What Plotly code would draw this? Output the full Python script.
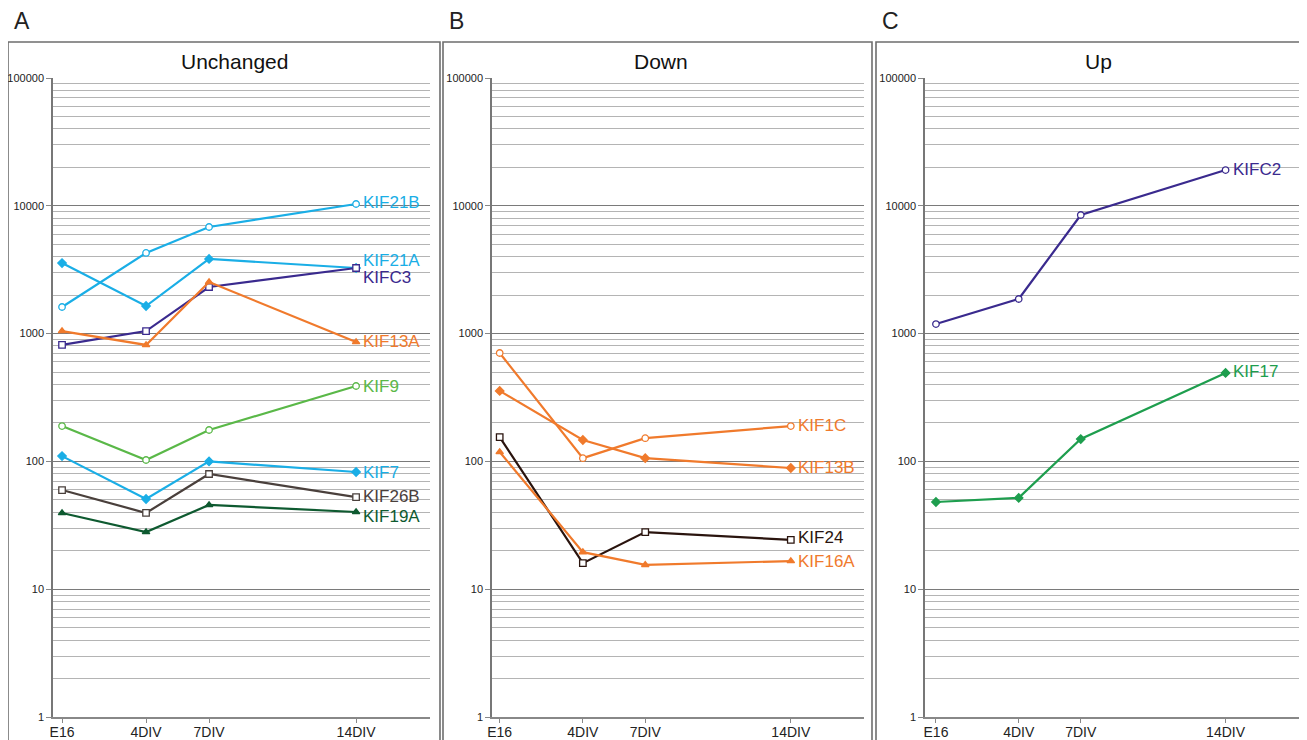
import math
import plotly.graph_objects as go

# ---- data ----
days = [0, 4, 7, 14]
tick_labels = ["E16", "4DIV", "7DIV", "14DIV"]

# Panel A: Unchanged
kif21b = [1615, 4275, 6825, 10330]
kif21a = [3565, 1644, 3837, 3260]
kifc3 = [815, 1047, 2316, 3260]
kif13a = [1047, 815, 2535, 860]
kif9 = [189, 102.6, 176, 389]
kif7 = [110, 50.8, 100, 82.6]
kif26b = [59.7, 39.5, 79.7, 52.6]
kif19a = [39.5, 28.0, 45.6, 40.2]

# Panel B: Down
kif1c = [705, 106, 152, 189]
kif13b = [356, 147, 106, 88.8]
kif24 = [155, 16.0, 28.0, 24.3]
kif16a = [118.5, 19.5, 15.5, 16.6]

# Panel C: Up
kifc2 = [1188, 1866, 8475, 19050]
kif17 = [48.1, 51.8, 149.6, 492]

panel_titles = ["Unchanged", "Down", "Up"]
panel_letters = ["A", "B", "C"]
major_ticks = [1, 10, 100, 1000, 10000, 100000]

# ---- styles ----
LBLUE = "#1aaee6"
INDIGO = "#3a2a8e"
ORANGE = "#f07a2c"
LGREEN = "#5ab848"
DBROWN = "#4a403c"
DGREEN = "#0e5a30"
BLACKBR = "#2a140e"
GREEN = "#1e9e4e"

FONT = "Liberation Sans, Arial, sans-serif"

series = [
    # (axis idx, name, values, color, symbol, label yshift)
    (1, "KIF21B", kif21b, LBLUE, "circle-open", 2),
    (1, "KIF21A", kif21a, LBLUE, "diamond", 8),
    (1, "KIFC3", kifc3, INDIGO, "square-open", -9),
    (1, "KIF13A", kif13a, ORANGE, "triangle-up", 0),
    (1, "KIF9", kif9, LGREEN, "circle-open", 0),
    (1, "KIF7", kif7, LBLUE, "diamond", 0),
    (1, "KIF26B", kif26b, DBROWN, "square-open", 1),
    (1, "KIF19A", kif19a, DGREEN, "triangle-up", -5),
    (2, "KIF1C", kif1c, ORANGE, "circle-open", 1),
    (2, "KIF13B", kif13b, ORANGE, "diamond", 0),
    (2, "KIF24", kif24, BLACKBR, "square-open", 2),
    (2, "KIF16A", kif16a, ORANGE, "triangle-up", 0),
    (3, "KIFC2", kifc2, INDIGO, "circle-open", 1),
    (3, "KIF17", kif17, GREEN, "diamond", 1),
]

# page body has an 8px margin; lay out in window pixels
OFF = 8
W, H = 1307 - OFF, 740 - OFF
def px(x):
    return (x - OFF) / W
def py(y):
    return 1 - (y - OFF) / H

plot_x = [(53, 430), (492, 864), (925, 1299)]
x_ranges = [(-0.43, 17.52), (-0.37, 17.52), (-0.53, 17.55)]
boxes = [(8, 440), (443, 872), (876, 1306)]
title_x = [235, 661, 1098]
letter_x = [22, 456, 890]

fig = go.Figure()
annotations = []

for ax, name, vals, color, sym, ysh in series:
    sfx = "" if ax == 1 else str(ax)
    is_open = sym.endswith("open")
    fig.add_trace(go.Scatter(
        x=days, y=vals, mode="lines+markers", name=name,
        xaxis="x" + sfx, yaxis="y" + sfx,
        line=dict(color=color, width=2.2),
        marker=dict(symbol=sym.replace("-open", "") if is_open else sym,
                    size=6.5,
                    color="white" if is_open else color,
                    line=dict(color=color, width=1.3)),
        showlegend=False, cliponaxis=False,
    ))
    annotations.append(dict(
        x=days[-1], y=math.log10(vals[-1]), xref="x" + sfx, yref="y" + sfx,
        yanchor="middle", xanchor="left", xshift=5, yshift=ysh,
        text=name, showarrow=False,
        font=dict(family=FONT, size=17, color=color),
    ))

minor_vals = [m * 10 ** d for d in range(0, 5) for m in range(2, 10)]

layout = dict(
    width=W, height=H, margin=dict(l=0, r=0, t=0, b=0, pad=0, autoexpand=False),
    paper_bgcolor="white", plot_bgcolor="white",
    font=dict(family=FONT, color="#222"),
)

shapes = []
for i in range(3):
    sfx = "" if i == 0 else str(i + 1)
    layout["xaxis" + sfx] = dict(
        domain=[px(plot_x[i][0]), px(plot_x[i][1])],
        range=list(x_ranges[i]),
        anchor="y" + sfx,
        tickmode="array", tickvals=days, ticktext=tick_labels,
        ticks="outside", ticklen=4, tickcolor="#888",
        ticklabelstandoff=-3,
        tickfont=dict(size=14, family=FONT, color="#222"),
        showgrid=False, zeroline=False,
        showline=True, linecolor="#888", linewidth=1.5,
        automargin=False,
    )
    layout["yaxis" + sfx] = dict(
        domain=[py(717), py(78)],
        type="log", range=[0, 5],
        anchor="x" + sfx,
        tickmode="array", tickvals=major_ticks,
        ticktext=[str(v) for v in major_ticks],
        ticks="outside", ticklen=5, tickcolor="#888",
        tickfont=dict(size=11, family=FONT, color="#222"),
        showgrid=True, gridcolor="#7a7a7a", gridwidth=1.4,
        minor=dict(tickmode="array", tickvals=minor_vals, showgrid=True,
                   gridcolor="#b4b4b4", gridwidth=1, ticks=""),
        zeroline=False,
        showline=True, linecolor="#777", linewidth=1.5,
        automargin=False,
    )
    shapes.append(dict(type="rect", xref="paper", yref="paper",
                       x0=px(boxes[i][0]), x1=px(boxes[i][1]),
                       y0=-0.05, y1=py(42),
                       line=dict(color="#6e6e6e", width=1.6),
                       fillcolor="rgba(0,0,0,0)", layer="below"))
    annotations.append(dict(x=px(title_x[i]), y=py(62), xref="paper", yref="paper",
                            text=panel_titles[i], showarrow=False,
                            xanchor="center", yanchor="middle",
                            font=dict(family=FONT, size=21, color="#111")))
    annotations.append(dict(x=px(letter_x[i]), y=py(21), xref="paper", yref="paper",
                            text=panel_letters[i], showarrow=False,
                            xanchor="center", yanchor="middle",
                            font=dict(family=FONT, size=23, color="#222")))

layout["shapes"] = shapes
layout["annotations"] = annotations
fig.update_layout(**layout)

fig.write_html("out.html")
